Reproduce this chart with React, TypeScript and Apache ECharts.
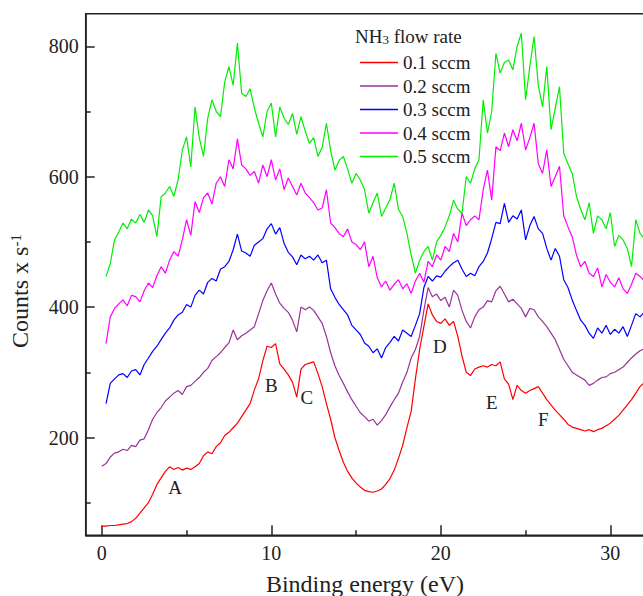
import React, { useEffect, useRef } from 'react';
import * as echarts from 'echarts';

// Binding energy grid step (eV) – every series is sampled on 0, 0.25, ... 32 eV
const energyStep = 0.25;

const counts01 = [
  64, 64, 65, 65, 66, 67, 68, 71,
  76, 84, 92, 100, 113, 128, 138, 148,
  155, 151, 154, 150, 153, 151, 155, 160,
  172, 178, 175, 186, 192, 203, 208, 215,
  222, 232, 242, 252, 273, 290, 318, 340,
  338, 344, 313, 305, 296, 285, 262, 305,
  312, 314, 316, 298, 278, 252, 228, 200,
  180, 162, 148, 138, 130, 124, 119, 117,
  116, 118, 121, 128, 137, 150, 168, 188,
  215, 240, 290, 335, 370, 405, 388, 378,
  375, 382, 372, 378, 355, 325, 300, 295,
  305, 308, 310, 308, 312, 310, 316, 290,
  282, 258, 280, 272, 268, 272, 275, 278,
  268, 258, 250, 242, 235, 228, 220, 216,
  214, 212, 210, 212, 209, 212, 214, 218,
  222, 228, 234, 242, 250, 258, 268, 278,
  284,
];

const counts02 = [
  156, 160, 170, 176, 178, 182, 180, 188,
  186, 196, 198, 212, 228, 238, 246, 256,
  262, 268, 272, 266, 278, 280, 286, 292,
  300, 306, 318, 324, 330, 338, 345, 365,
  350, 356, 360, 365, 370, 390, 410, 425,
  437, 420, 406, 398, 392, 380, 362, 400,
  396, 400, 395, 385, 375, 355, 330, 310,
  295, 283, 270, 258, 248, 238, 232, 225,
  228, 219, 226, 235, 247, 258, 268, 285,
  300, 322, 335, 355, 395, 430, 416, 420,
  410, 415, 400, 426, 418, 395, 378, 368,
  385, 396, 400, 410, 408, 425, 432, 420,
  408, 412, 405, 398, 385, 398, 396, 385,
  378, 370, 360, 350, 335, 320, 310, 300,
  296, 292, 288, 280, 283, 288, 292, 293,
  298, 300, 304, 308, 315, 322, 328, 333,
  336,
];

const counts03 = [
  null, 252, 283, 290, 296, 298, 292, 302,
  304, 296, 312, 322, 332, 340, 350, 360,
  368, 380, 388, 392, 404, 400, 418, 426,
  420, 438, 444, 440, 458, 462, 470, 488,
  512, 486, 483, 478, 495, 500, 505, 520,
  528, 512, 522, 498, 484, 477, 465, 480,
  474, 478, 472, 480, 468, 472, 428, 415,
  404, 396, 388, 372, 365, 358, 345, 340,
  330, 336, 322, 338, 346, 355, 348, 365,
  360, 355, 372, 390, 430, 447, 440, 448,
  446, 455, 462, 468, 472, 458, 447, 452,
  448, 462, 470, 483, 505, 530, 528, 559,
  530, 540, 535, 549, 503, 525, 539, 520,
  513, 490, 472, 490, 478, 442, 430, 411,
  395, 380, 372, 360, 352, 368, 360, 372,
  358, 366, 360, 370, 355, 372, 390, 385,
  392,
];

const counts04 = [
  null, 344, 385, 398, 405, 411, 402, 418,
  416, 408, 425, 437, 430, 448, 462, 452,
  472, 485, 478, 503, 534, 510, 562, 545,
  568, 575, 558, 590, 600, 585, 626, 612,
  658, 618, 612, 602, 608, 590, 618, 600,
  626, 595, 612, 580, 598, 585, 572, 590,
  575, 568, 560, 549, 552, 580, 529, 522,
  513, 508, 520, 500, 496, 488, 500, 462,
  478, 445, 431, 440, 426, 435, 442, 428,
  436, 421, 440, 452, 438, 470, 462, 480,
  472, 493, 485, 513, 500, 544, 525, 534,
  540, 534, 580, 610, 564, 646, 640, 667,
  646, 672, 655, 682, 641, 660, 682, 620,
  605, 641, 585, 600, 616, 540, 523, 508,
  480, 462, 470, 452, 447, 460, 431, 450,
  438, 431, 445, 428, 421, 435, 452, 447,
  440,
];

const counts05 = [
  null, 447, 467, 503, 515, 529, 520, 535,
  529, 542, 530, 549, 540, 508, 569, 575,
  585, 570, 595, 641, 661, 615, 707, 660,
  631, 690, 718, 700, 692, 745, 769, 740,
  805, 728, 723, 735, 705, 682, 661, 700,
  713, 661, 707, 690, 680, 697, 665, 692,
  670, 651, 660, 631, 645, 682, 640, 610,
  625, 631, 612, 590, 605, 595, 580, 544,
  560, 575, 539, 552, 565, 590, 550, 539,
  513, 480, 452, 472, 485, 493, 472, 500,
  510, 523, 540, 564, 550, 544, 600, 590,
  612, 626, 718, 667, 700, 789, 759, 775,
  779, 764, 800, 820, 718, 769, 815, 740,
  707, 769, 672, 705, 738, 636, 620, 605,
  570, 550, 534, 560, 513, 540, 534, 520,
  545, 493, 510, 503, 490, 462, 534, 513,
  505,
];

const seriesNames = ['0.1 sccm', '0.2 sccm', '0.3 sccm', '0.4 sccm', '0.5 sccm'];
const seriesColors = ['#ff0000', '#993399', '#0000ff', '#ff00ff', '#00ee00'];
const seriesValues = [counts01, counts02, counts03, counts04, counts05];

const majorXTicks = [0, 10, 20, 30];
const minorXTicks = [5, 15, 25];
const majorYTicks = [200, 400, 600, 800];
const minorYTicks = [100, 300, 500, 700];

const peakLabels = ['A', 'B', 'C', 'D', 'E', 'F'];
const peakEnergies = [4.32, 10.0, 12.1, 19.94, 23.0, 26.04];
const peakCounts = [124, 279, 262, 339, 253, 227];

const FONT = 'Liberation Serif';
const INK = '#222';

function toPairs(vals: (number | null)[]) {
  const out: [number, number][] = [];
  vals.forEach((v, i) => {
    if (v !== null) out.push([i * energyStep, v]);
  });
  return out;
}

export default function App() {
  const ref = useRef<HTMLDivElement>(null);

  useEffect(() => {
    if (!ref.current) return;
    const chart = echarts.init(ref.current, null, { renderer: 'svg' });

    const baseX = { type: 'value', min: -0.95, max: 33, gridIndex: 0 };
    const baseY = { type: 'value', min: 50, max: 850, gridIndex: 0 };

    const series: any[] = seriesNames.map((name, i) => ({
      name,
      type: 'line',
      symbol: 'none',
      xAxisIndex: 0,
      yAxisIndex: 0,
      data: toPairs(seriesValues[i]),
      lineStyle: { color: seriesColors[i], width: 1.2 },
      itemStyle: { color: seriesColors[i] },
      emphasis: { disabled: true },
      markPoint:
        i === 0
          ? {
              silent: true,
              symbol: 'circle',
              symbolSize: 0,
              label: {
                show: true,
                position: 'inside',
                formatter: '{b}',
                fontSize: 19,
                fontFamily: FONT,
                color: INK,
              },
              data: peakLabels.map((n, k) => ({ name: n, coord: [peakEnergies[k], peakCounts[k]] })),
            }
          : undefined,
    }));

    chart.setOption({
      animation: false,
      backgroundColor: '#fff',
      textStyle: { fontFamily: FONT },
      grid: {
        left: 85.7,
        top: 13.7,
        width: 575.5,
        height: 521.6,
        show: true,
        borderColor: INK,
        borderWidth: 1.5,
        outerBoundsMode: 'none',
        containLabel: false,
      },
      legend: {
        orient: 'vertical',
        left: 360,
        top: 53,
        padding: 0,
        icon: 'rect',
        itemWidth: 38,
        itemHeight: 1.5,
        itemGap: 4.5,
        data: seriesNames,
        textStyle: { fontSize: 19, fontFamily: FONT, color: INK, lineHeight: 19 },
      },
      xAxis: [
        {
          ...baseX,
          position: 'bottom',
          axisLine: { show: true, onZero: false, lineStyle: { color: INK, width: 1.5 } },
          axisTick: {
            show: true,
            inside: true,
            length: 10,
            customValues: majorXTicks,
            lineStyle: { color: INK, width: 1.5 },
          },
          axisLabel: {
            customValues: majorXTicks,
            fontSize: 20,
            fontFamily: FONT,
            color: INK,
            margin: 8,
          },
          splitLine: { show: false },
        },
        {
          ...baseX,
          position: 'bottom',
          axisLine: { show: false, onZero: false },
          axisTick: {
            show: true,
            inside: true,
            length: 5,
            customValues: minorXTicks,
            lineStyle: { color: INK, width: 1.5 },
          },
          axisLabel: { show: false },
          splitLine: { show: false },
        },
      ],
      yAxis: [
        {
          ...baseY,
          position: 'left',
          axisLine: { show: true, onZero: false, lineStyle: { color: INK, width: 1.5 } },
          axisTick: {
            show: true,
            inside: true,
            length: 9,
            customValues: majorYTicks,
            lineStyle: { color: INK, width: 1.5 },
          },
          axisLabel: {
            customValues: majorYTicks,
            fontSize: 20,
            fontFamily: FONT,
            color: INK,
            margin: 7,
          },
          splitLine: { show: false },
        },
        {
          ...baseY,
          position: 'left',
          axisLine: { show: false, onZero: false },
          axisTick: {
            show: true,
            inside: true,
            length: 5,
            customValues: minorYTicks,
            lineStyle: { color: INK, width: 1.5 },
          },
          axisLabel: { show: false },
          splitLine: { show: false },
        },
      ],
      graphic: [
        {
          type: 'text',
          x: 355,
          y: 36,
          style: {
            text: '{n|NH}{s|3}{n| flow rate}',
            textAlign: 'left',
            textVerticalAlign: 'middle',
            fill: INK,
            rich: {
              n: { fontSize: 19, lineHeight: 19, fontFamily: FONT, fill: INK, color: INK },
              s: {
                fontSize: 13,
                lineHeight: 13,
                fontFamily: FONT,
                fill: INK,
                color: INK,
                verticalAlign: 'bottom',
                padding: [10, 0, 0, 0],
              },
            },
          },
        },
        {
          type: 'text',
          x: 20,
          y: 291,
          rotation: Math.PI / 2,
          style: {
            text: '{a|Counts x s}{b|-1}',
            textAlign: 'center',
            textVerticalAlign: 'middle',
            fill: INK,
            rich: {
              a: { fontSize: 24, lineHeight: 24, fontFamily: FONT, fill: INK, color: INK },
              b: {
                fontSize: 15,
                lineHeight: 15,
                fontFamily: FONT,
                fill: INK,
                color: INK,
                verticalAlign: 'top',
              },
            },
          },
        },
        {
          type: 'text',
          x: 365,
          y: 584,
          style: {
            text: 'Binding energy (eV)',
            textAlign: 'center',
            textVerticalAlign: 'middle',
            fontSize: 24,
            fontFamily: FONT,
            fill: INK,
          },
        },
      ],
      series,
    });

    return () => chart.dispose();
  }, []);

  return (
    <div
      ref={ref}
      style={{ position: 'absolute', left: 0, top: 0, width: 643, height: 596, overflow: 'hidden' }}
    />
  );
}
